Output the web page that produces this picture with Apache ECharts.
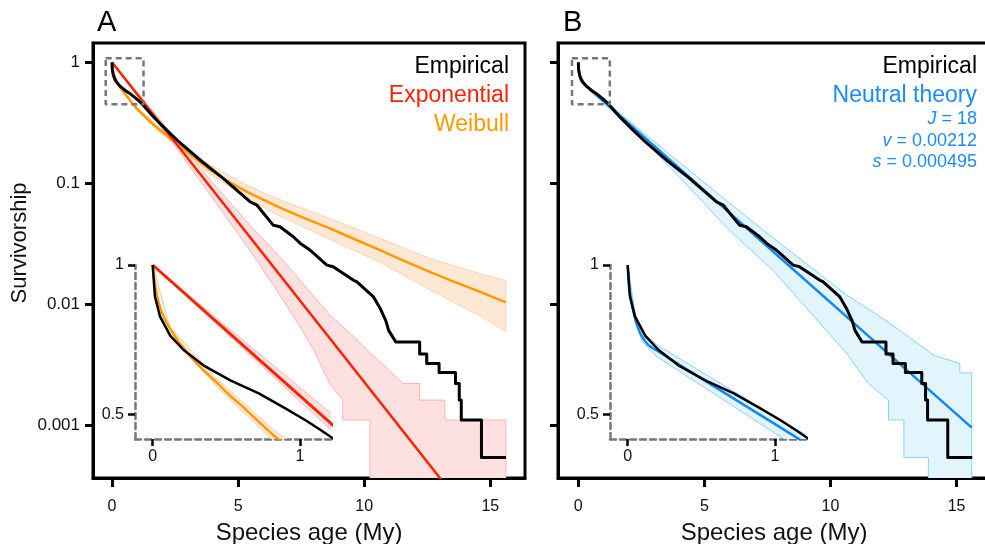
<!DOCTYPE html>
<html><head><meta charset="utf-8">
<script src="https://cdn.jsdelivr.net/npm/echarts@6/dist/echarts.min.js"></script>
<style>html,body{margin:0;padding:0;background:#fff}#c{width:985px;height:544px}</style>
</head><body><div id="c"></div>
<script>
// ---------- data ----------
const xTicks = [0, 5, 10, 15];
const yTicks = [1, 0.1, 0.01, 0.001];
const yTickLabels = ['1', '0.1', '0.01', '0.001'];
const insetXTicks = [0, 1];
const insetYTicks = [1, 0.5];
const insetYTickLabels = ['1', '0.5'];

// empirical survivorship (same data in both panels); late part as explicit steps
const empX = [0, 0.015, 0.05, 0.12, 0.21, 0.35, 0.53, 0.72, 0.9, 1.04, 1.15, 1.22, 1.64, 2.17, 2.58, 3.49, 4.16, 4.41, 5.47, 5.75, 6.4, 6.66, 7.19, 7.47, 7.85, 8.0, 8.52, 8.77, 9.58, 9.7, 10.36, 10.63, 10.86, 10.97, 11.25, 12.2, 12.2, 12.48, 12.48, 12.97, 12.97, 13.62, 13.62, 13.77, 13.77, 13.85, 13.85, 14.65, 14.65, 15.62];
const empY = [1, 0.865, 0.787, 0.72, 0.674, 0.626, 0.585, 0.551, 0.514, 0.486, 0.463, 0.448, 0.355, 0.275, 0.228, 0.156, 0.121, 0.11, 0.0705, 0.066, 0.045, 0.0438, 0.0362, 0.0319, 0.0281, 0.0264, 0.0211, 0.0205, 0.0158, 0.0154, 0.0116, 0.0093, 0.0073, 0.0061, 0.0049, 0.0049, 0.0039, 0.0039, 0.00325, 0.00325, 0.00274, 0.00274, 0.00222, 0.00222, 0.00162, 0.00162, 0.00111, 0.00111, 0.000543, 0.000543];

// exponential fit
const expX = [0, 16.4];
const expY = [1, 0.0000467];
const expUpX = [0, 1.2, 2.6, 4.0, 5.5, 6.66, 7.5, 8.64, 9.5, 10.23, 10.63, 11.55, 12.2, 12.2, 13.2, 13.2, 15.62];
const expUpY = [1, 0.505, 0.223, 0.1009, 0.0444, 0.0247, 0.0155, 0.00817, 0.00562, 0.00398, 0.00336, 0.00222, 0.00222, 0.00162, 0.00162, 0.00111, 0.00111];
const expLoX = [0, 1.2, 2.6, 4.0, 5.5, 6.66, 7.5, 8.0, 8.64, 9.15, 9.15, 10.23, 10.23, 15.62];
const expLoY = [1, 0.468, 0.19, 0.0748, 0.0274, 0.0119, 0.0063, 0.0042, 0.0022, 0.00162, 0.00111, 0.00111, 0.0001, 0.0001];

// Weibull fit
const weibX = [0, 0.005, 0.01, 0.018, 0.027, 0.04, 0.06, 0.085, 0.117, 0.18, 0.253, 0.34, 0.434, 0.52, 0.615, 0.72, 0.83, 1.0, 1.24, 1.5, 1.8, 2.15, 2.56, 3.2, 3.89, 4.6, 5.47, 6.66, 7.6, 8.64, 9.6, 10.63, 11.6, 12.6, 13.6, 14.6, 15.62];
const weibY = [1, 0.96, 0.94, 0.905, 0.877, 0.842, 0.805, 0.774, 0.745, 0.697, 0.655, 0.615, 0.58, 0.547, 0.517, 0.483, 0.451, 0.411, 0.368, 0.326, 0.287, 0.251, 0.214, 0.167, 0.129, 0.104, 0.0826, 0.063, 0.0518, 0.0425, 0.0347, 0.0281, 0.0228, 0.0186, 0.0153, 0.0127, 0.0104];
const weibBandX = [0, 0.117, 0.434, 0.83, 1.24, 1.8, 2.56, 3.89, 5.47, 6.66, 8.64, 10.63, 12.6, 14.6, 15.62];
const weibUpY = [1, 0.752, 0.59, 0.4634, 0.3811, 0.3006, 0.2265, 0.1416, 0.0938, 0.0733, 0.0511, 0.0351, 0.024, 0.01795, 0.01574];
const weibLoY = [1, 0.738, 0.568, 0.4385, 0.3556, 0.2742, 0.2004, 0.1191, 0.0728, 0.0537, 0.0345, 0.0223, 0.0132, 0.00802, 0.00598];

// neutral theory fit
const neuX = [0, 0.005, 0.01, 0.017, 0.023, 0.033, 0.045, 0.056, 0.068, 0.083, 0.1, 0.12, 0.14, 0.17, 0.2, 0.4, 1.0, 2.0, 4.0, 8.0, 12.0, 15.6];
const neuY = [1, 0.94, 0.9, 0.872, 0.85, 0.82, 0.79, 0.768, 0.75, 0.731, 0.715, 0.701, 0.69, 0.68, 0.672, 0.616, 0.478, 0.312, 0.1335, 0.0243, 0.00444, 0.00096];
const neuUpX = [0, 0.05, 0.1, 0.2, 1.0, 2.6, 4, 6, 8, 10.64, 11.96, 13.02, 14.08, 15.13, 15.13, 15.6];
const neuUpY = [1, 0.8, 0.73, 0.69, 0.495, 0.259, 0.1496, 0.0686, 0.0319, 0.01194, 0.00794, 0.00557, 0.00381, 0.00325, 0.00272, 0.00272];
const neuLoX = [0, 0.05, 0.1, 0.2, 1.0, 2.6, 4, 6, 7.73, 9.71, 10.64, 11.5, 12.3, 12.3, 12.91, 12.91, 13.88, 13.88, 15.6];
const neuLoY = [1, 0.77, 0.7, 0.653, 0.458, 0.226, 0.1135, 0.0407, 0.019, 0.00653, 0.00394, 0.00222, 0.00162, 0.00111, 0.00111, 0.000544, 0.000544, 0.0001, 0.0001];

// zoom box drawn in the main panels (the inset's region)
const zoomBoxX = [-0.25, 1.25, 1.25, -0.25, -0.25];
const zoomBoxY = [1.08, 1.08, 0.45, 0.45, 1.08];

// ---------- chart ----------
const FONT = '"Liberation Sans", Arial, Helvetica, sans-serif';
const RED = '#ff2200', ORANGE = '#ff9900', BLUE = '#1288f5', BLUE_TXT = '#1a8cff';
const pairs = (xs, ys) => xs.map((x, i) => [x, ys[i]]);

function labelFrom(ticks, labels) {
  return function (v) {
    for (let i = 0; i < ticks.length; i++) {
      if (Math.abs(Math.log10(v) - Math.log10(ticks[i])) < 1e-6) return labels[i];
    }
    return '';
  };
}

function band(xi, yi, ux, uy, lx, ly, fill, stroke) {
  return {
    type: 'custom', xAxisIndex: xi, yAxisIndex: yi, clip: true, silent: true, z: 1,
    data: [[0.5, 0.5]],
    renderItem: function (params, api) {
      const pts = [];
      for (let i = 0; i < ux.length; i++) pts.push(api.coord([ux[i], uy[i]]));
      for (let i = lx.length - 1; i >= 0; i--) pts.push(api.coord([lx[i], ly[i]]));
      return { type: 'polygon', shape: { points: pts }, style: { fill: fill, stroke: stroke, lineWidth: 1 } };
    }
  };
}
function line(xi, yi, xs, ys, color, w, z, extra) {
  return Object.assign({
    type: 'line', xAxisIndex: xi, yAxisIndex: yi, data: pairs(xs, ys), symbol: 'none', showSymbol: false,
    clip: true, silent: true, z: z, smooth: false, lineStyle: { color: color, width: w, join: 'round' }
  }, extra || {});
}

function mainX(gi, min, max) {
  return {
    gridIndex: gi, type: 'value', min: min, max: max,
    axisLine: { onZero: false, lineStyle: { color: '#000', width: 3 } },
    axisTick: { customValues: xTicks, length: 9, lineStyle: { color: '#000', width: 3 } },
    axisLabel: { customValues: xTicks, fontSize: 16, color: '#111', margin: 21, fontFamily: FONT },
    splitLine: { show: false },
    name: 'Species age (My)', nameLocation: 'middle', nameGap: 43,
    nameTextStyle: { fontSize: 24, color: '#111', fontFamily: FONT }
  };
}
function mainY(gi, showLabels) {
  return {
    gridIndex: gi, type: 'log', logBase: 10, min: 0.000368, max: 1.444,
    axisLine: { onZero: false, lineStyle: { color: '#000', width: 3 } },
    axisTick: { customValues: yTicks, length: 8, lineStyle: { color: '#000', width: 3 } },
    axisLabel: { show: showLabels, customValues: yTicks, formatter: labelFrom(yTicks, yTickLabels), fontSize: 17, color: '#111', margin: 13, fontFamily: FONT },
    splitLine: { show: false }, minorTick: { show: false }
  };
}
function insetX(gi) {
  return {
    gridIndex: gi, type: 'value', min: -0.12, max: 1.21,
    axisLine: { onZero: false, lineStyle: { color: '#777', width: 2.5, type: [6, 4] } },
    axisTick: { customValues: insetXTicks, length: 7, lineStyle: { color: '#000', width: 2.5 } },
    axisLabel: { customValues: insetXTicks, fontSize: 16, color: '#111', margin: 10, fontFamily: FONT },
    splitLine: { show: false }
  };
}
function insetY(gi) {
  return {
    gridIndex: gi, type: 'log', logBase: 10, min: 0.446, max: 1,
    axisLine: { onZero: false, lineStyle: { color: '#777', width: 2.5, type: [6, 4] } },
    axisTick: { customValues: insetYTicks, length: 7, lineStyle: { color: '#000', width: 2.5 } },
    axisLabel: { customValues: insetYTicks, formatter: labelFrom(insetYTicks, insetYTickLabels), fontSize: 16, color: '#111', margin: 11, fontFamily: FONT },
    splitLine: { show: false }, minorTick: { show: false }
  };
}

const gridBase = { show: true, borderColor: '#000', borderWidth: 3, backgroundColor: 'transparent', containLabel: false, outerBoundsMode: 'none' };
const insetGridBase = { show: false, containLabel: false, outerBoundsMode: 'none' };

const txt = (x, y, text, color, size, align, extra) => Object.assign({
  type: 'text', x: x, y: y, silent: true,
  style: { text: text, fill: color, fontSize: size, fontFamily: FONT, textAlign: align || 'right', textVerticalAlign: 'middle' }
}, extra || {});
const richTxt = (x, y, varName, rest) => ({
  type: 'text', x: x, y: y, silent: true,
  style: {
    text: '{i|' + varName + '}{n|' + rest + '}', textAlign: 'right', textVerticalAlign: 'middle',
    rich: {
      i: { fontStyle: 'italic', fontSize: 18, fontFamily: FONT, fill: BLUE_TXT },
      n: { fontSize: 18, fontFamily: FONT, fill: BLUE_TXT }
    }
  }
});

const option = {
  animation: false,
  backgroundColor: '#fff',
  grid: [
    Object.assign({ left: 93, top: 43, width: 432, height: 435 }, gridBase),
    Object.assign({ left: 558, top: 43, width: 432, height: 435 }, gridBase),
    Object.assign({ left: 135, top: 265, width: 196, height: 174 }, insetGridBase),
    Object.assign({ left: 610, top: 265, width: 196, height: 174 }, insetGridBase)
  ],
  xAxis: [mainX(0, -0.753, 16.377), mainX(1, -0.805, 16.325), insetX(2), insetX(3)],
  yAxis: [mainY(0, true), mainY(1, false), insetY(2), insetY(3)],
  series: [
    // panel A main
    band(0, 0, weibBandX, weibUpY, weibBandX, weibLoY, '#fde8d6', '#fcd3b0'),
    band(0, 0, expUpX, expUpY, expLoX, expLoY, '#fde0e0', '#f8b6b6'),
    line(0, 0, weibX, weibY, ORANGE, 2.5, 2),
    line(0, 0, expX, expY, RED, 2.5, 3),
    line(0, 0, empX, empY, '#000', 3, 4),
    line(0, 0, zoomBoxX, zoomBoxY, '#777', 2.5, 5, { lineStyle: { color: '#777', width: 2.5, type: [6, 4] } }),
    // panel A inset
    band(2, 2, weibBandX, weibUpY, weibBandX, weibLoY, '#fde8d6', '#fcd3b0'),
    band(2, 2, expUpX, expUpY, expLoX, expLoY, '#fde0e0', '#f8b6b6'),
    line(2, 2, weibX, weibY, ORANGE, 2.5, 2),
    line(2, 2, expX, expY, RED, 3, 3),
    line(2, 2, empX, empY, '#000', 2.5, 4),
    // panel B main
    band(1, 1, neuUpX, neuUpY, neuLoX, neuLoY, '#e2f5fd', '#88d3f5'),
    line(1, 1, neuX, neuY, BLUE, 2.5, 2),
    line(1, 1, empX, empY, '#000', 3, 4),
    line(1, 1, zoomBoxX, zoomBoxY, '#777', 2.5, 5, { lineStyle: { color: '#777', width: 2.5, type: [6, 4] } }),
    // panel B inset
    band(3, 3, neuUpX, neuUpY, neuLoX, neuLoY, '#e2f5fd', '#88d3f5'),
    line(3, 3, neuX, neuY, BLUE, 2.5, 2),
    line(3, 3, empX, empY, '#000', 2.5, 4)
  ],
  graphic: [
    txt(97, 23, 'A', '#000', 29, 'left'),
    txt(563, 23, 'B', '#000', 29, 'left'),
    txt(20, 243, 'Survivorship', '#111', 22, 'center', { rotation: Math.PI / 2 }),
    txt(509, 67, 'Empirical', '#000', 23),
    txt(509, 96, 'Exponential', RED, 23),
    txt(509, 125, 'Weibull', ORANGE, 23),
    txt(977, 67, 'Empirical', '#000', 23),
    txt(977, 96, 'Neutral theory', BLUE_TXT, 23),
    richTxt(977, 119, 'J', ' = 18'),
    richTxt(977, 141, 'v', ' = 0.00212'),
    richTxt(977, 162, 's', ' = 0.000495')
  ]
};

const chart = echarts.init(document.getElementById('c'), null, { renderer: 'canvas' });
chart.setOption(option);
</script>
</body></html>
